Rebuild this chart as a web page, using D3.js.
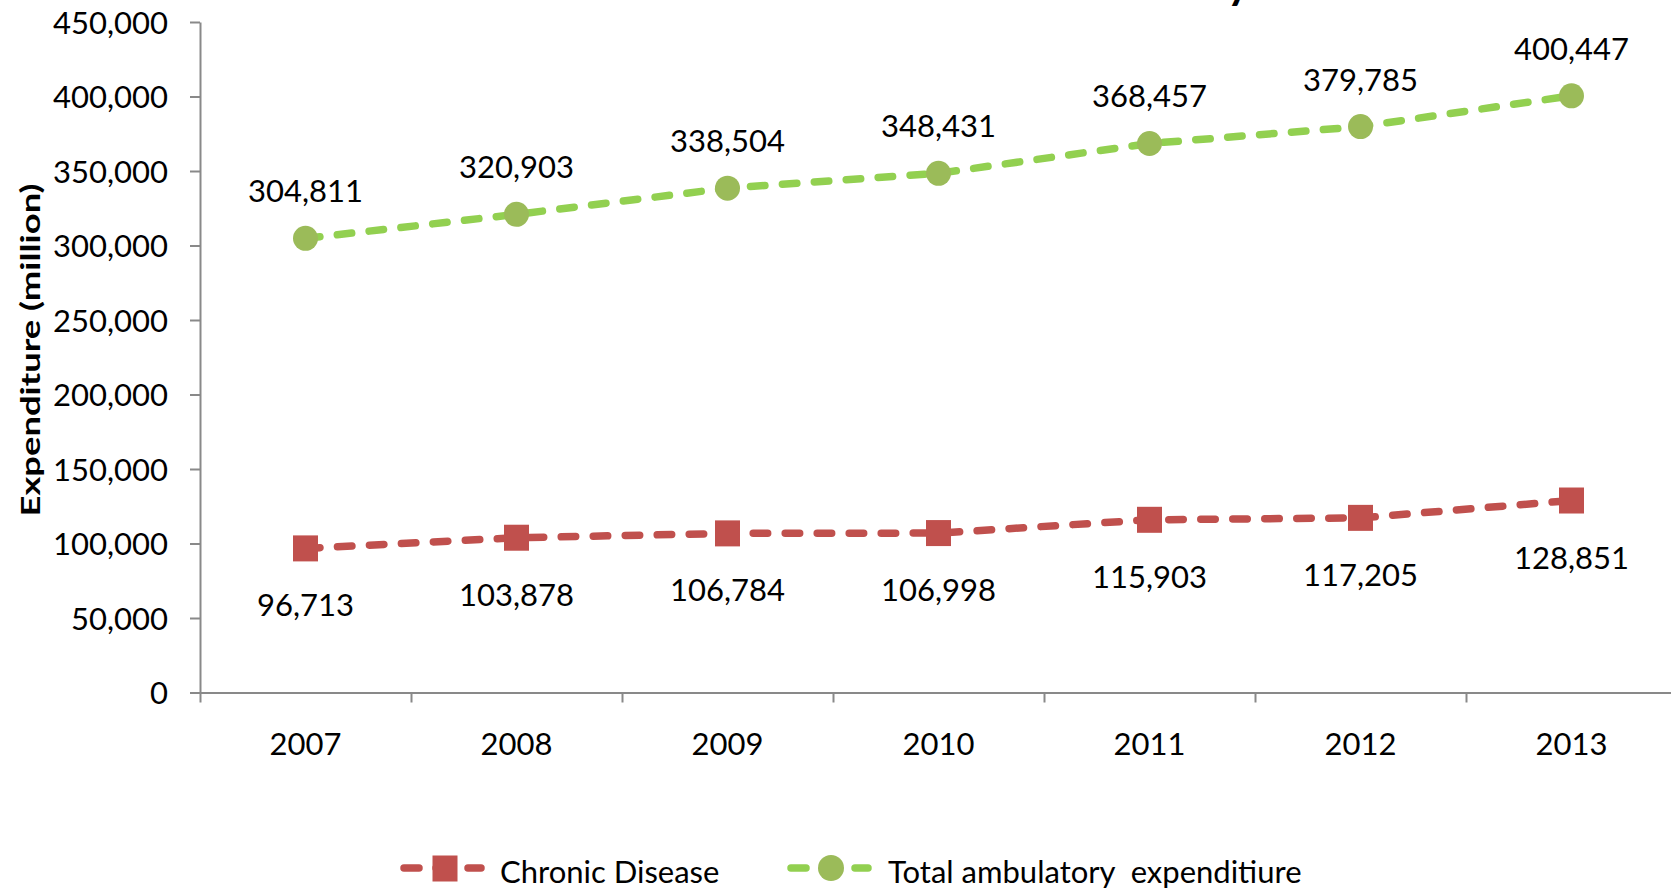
<!DOCTYPE html>
<html>
<head>
<meta charset="utf-8">
<script src="https://cdn.jsdelivr.net/npm/d3@7"></script>
<style>
  body { margin: 0; background: #fff; overflow: hidden; }
  text { font-family: Lato, "Open Sans", sans-serif; fill: #000; }
</style>
</head>
<body>
<div id="chart"></div>
<script>
// chart data
var years = ["2007", "2008", "2009", "2010", "2011", "2012", "2013"];
var chronicDisease = [96713, 103878, 106784, 106998, 115903, 117205, 128851];
var totalAmbulatory = [304811, 320903, 338504, 348431, 368457, 379785, 400447];
var yTickValues = [0, 50000, 100000, 150000, 200000, 250000, 300000, 350000, 400000, 450000];
var seriesNames = ["Chronic Disease", "Total ambulatory  expenditiure"];
var yAxisTitle = "Expenditure (million)";
var chartTitle = "Chronic Disease and Total Ambulatory";

var svgWidth = 1671;
var svgHeight = 890;

var plotLeft = 200;
var plotTop = 22;
var plotBottom = 692.5;
var bandW = 211;

var redColor = "#C0504D";
var greenLine = "#92D050";
var greenMarker = "#9BBB59";
var axisColor = "#898989";

var svg = d3.select("#chart")
  .append("svg")
  .attr("width", svgWidth)
  .attr("height", svgHeight);

// scales
var xScale = d3.scaleBand()
  .domain(years)
  .range([plotLeft, plotLeft + years.length * bandW])
  .padding(0);

var xEdges = d3.scaleLinear()
  .domain([0, years.length])
  .range([plotLeft, plotLeft + years.length * bandW]);

var yScale = d3.scaleLinear()
  .domain([0, 450000])
  .range([plotBottom, plotTop]);

function cx(d, i) { return xScale(years[i]) + xScale.bandwidth() / 2; }

// title (sits above the top edge, only a descender shows)
svg.append("text")
  .attr("x", 1250)
  .attr("y", -1)
  .attr("text-anchor", "end")
  .style("font-size", "44px")
  .style("font-weight", "bold")
  .text(chartTitle);

// y axis
var yAxis = svg.append("g")
  .attr("transform", `translate(${plotLeft},0)`)
  .call(d3.axisLeft(yScale)
    .tickValues(yTickValues)
    .tickSize(10)
    .tickSizeOuter(0)
    .tickPadding(22)
    .tickFormat(d3.format(",")));

yAxis.selectAll("text")
  .style("font-size", "31px")
  .attr("dy", "0.36em");

// x axis: ticks on category edges, labels in band centres
var xAxis = svg.append("g")
  .attr("transform", `translate(0,${plotBottom})`)
  .call(d3.axisBottom(xEdges)
    .tickValues(d3.range(years.length + 1))
    .tickSize(10)
    .tickSizeOuter(0)
    .tickFormat(""));

svg.selectAll(".year-label")
  .data(years)
  .enter()
  .append("text")
  .attr("class", "year-label")
  .attr("x", d => xScale(d) + xScale.bandwidth() / 2)
  .attr("y", 755)
  .attr("text-anchor", "middle")
  .style("font-size", "31px")
  .text(d => d);

svg.selectAll(".domain, .tick line")
  .attr("stroke", axisColor)
  .attr("stroke-width", 2);

// y axis title
svg.append("text")
  .attr("transform", "translate(40,350) rotate(-90)")
  .attr("text-anchor", "middle")
  .attr("textLength", 333)
  .attr("lengthAdjust", "spacingAndGlyphs")
  .style("font-size", "26px")
  .style("font-weight", "bold")
  .text(yAxisTitle);

// lines
var line = d3.line()
  .x(cx)
  .y(d => yScale(d));

svg.append("path")
  .datum(totalAmbulatory)
  .attr("d", line)
  .attr("fill", "none")
  .attr("stroke", greenLine)
  .attr("stroke-width", 7.5)
  .attr("stroke-linecap", "round")
  .attr("stroke-dasharray", "14.5 17.5");

svg.append("path")
  .datum(chronicDisease)
  .attr("d", line)
  .attr("fill", "none")
  .attr("stroke", redColor)
  .attr("stroke-width", 7.5)
  .attr("stroke-linecap", "round")
  .attr("stroke-dasharray", "14.5 17.5");

// markers
svg.selectAll(".green-dot")
  .data(totalAmbulatory)
  .enter()
  .append("circle")
  .attr("class", "green-dot")
  .attr("cx", cx)
  .attr("cy", d => yScale(d))
  .attr("r", 12.5)
  .attr("fill", greenMarker);

svg.selectAll(".red-square")
  .data(chronicDisease)
  .enter()
  .append("rect")
  .attr("class", "red-square")
  .attr("x", (d, i) => cx(d, i) - 12.5)
  .attr("y", d => yScale(d) - 13)
  .attr("width", 25)
  .attr("height", 26)
  .attr("fill", redColor);

// data labels
svg.selectAll(".green-label")
  .data(totalAmbulatory)
  .enter()
  .append("text")
  .attr("class", "green-label")
  .attr("x", cx)
  .attr("y", d => yScale(d) - 36)
  .attr("text-anchor", "middle")
  .style("font-size", "31px")
  .text(d3.format(","));

svg.selectAll(".red-label")
  .data(chronicDisease)
  .enter()
  .append("text")
  .attr("class", "red-label")
  .attr("x", cx)
  .attr("y", d => yScale(d) + 68)
  .attr("text-anchor", "middle")
  .style("font-size", "31px")
  .text(d3.format(","));

// legend
var legendY = 868;

svg.append("line")
  .attr("x1", 404).attr("x2", 481)
  .attr("y1", legendY).attr("y2", legendY)
  .attr("stroke", redColor)
  .attr("stroke-width", 7.5)
  .attr("stroke-linecap", "round")
  .attr("stroke-dasharray", "15 17");

svg.append("rect")
  .attr("x", 432.5).attr("y", legendY - 12.5)
  .attr("width", 25).attr("height", 26)
  .attr("fill", redColor);

svg.append("text")
  .attr("x", 500)
  .attr("y", 883)
  .style("font-size", "31px")
  .text(seriesNames[0]);

svg.append("line")
  .attr("x1", 791).attr("x2", 868)
  .attr("y1", legendY).attr("y2", legendY)
  .attr("stroke", greenLine)
  .attr("stroke-width", 7.5)
  .attr("stroke-linecap", "round")
  .attr("stroke-dasharray", "15 17");

svg.append("circle")
  .attr("cx", 831).attr("cy", legendY)
  .attr("r", 13)
  .attr("fill", greenMarker);

svg.append("text")
  .attr("x", 888)
  .attr("y", 883)
  .style("font-size", "31px")
  .style("white-space", "pre")
  .text(seriesNames[1]);
</script>
</body>
</html>
